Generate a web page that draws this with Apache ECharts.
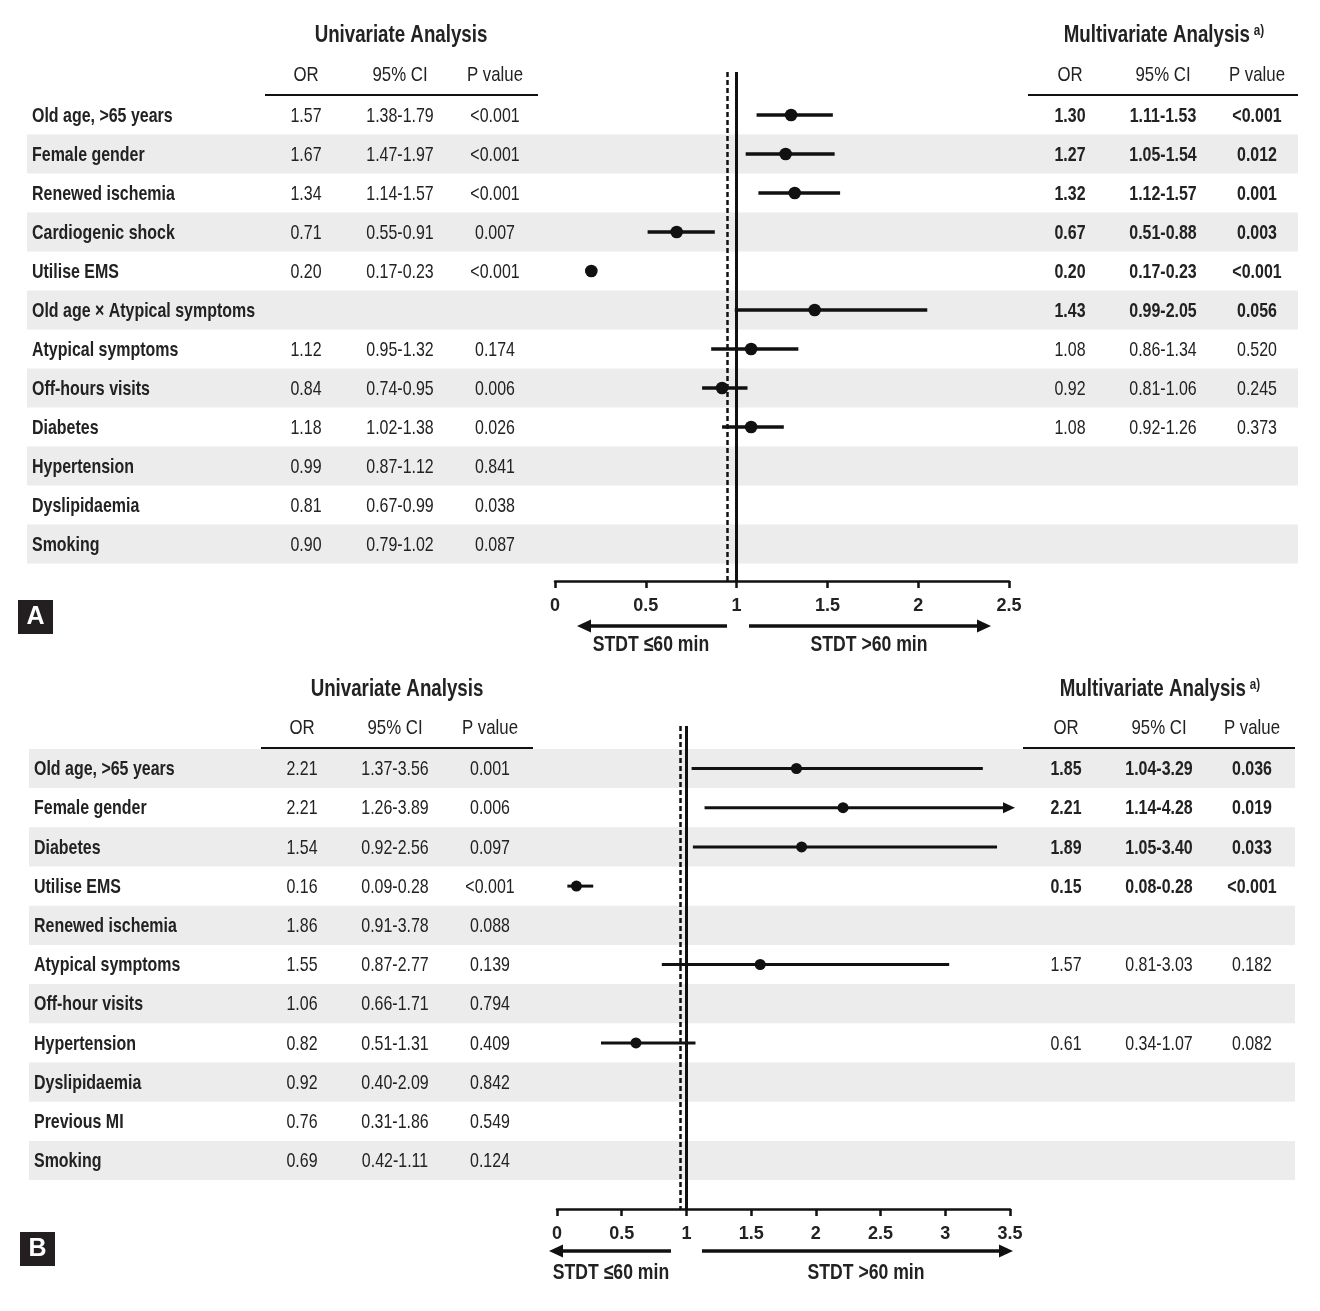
<!DOCTYPE html>
<html><head><meta charset="utf-8">
<script src="https://cdn.jsdelivr.net/npm/echarts@6/dist/echarts.min.js"></script>
<style>html,body{margin:0;padding:0;background:#fff}#c{width:1320px;height:1311px}</style>
</head><body><div id="c"></div>
<script>
// ---------- Panel A data ----------
const A_labels = ['Old age, >65 years','Female gender','Renewed ischemia','Cardiogenic shock','Utilise EMS','Old age \u00d7 Atypical symptoms','Atypical symptoms','Off-hours visits','Diabetes','Hypertension','Dyslipidaemia','Smoking'];
const A_uniOR = ['1.57','1.67','1.34','0.71','0.20','','1.12','0.84','1.18','0.99','0.81','0.90'];
const A_uniCI = ['1.38-1.79','1.47-1.97','1.14-1.57','0.55-0.91','0.17-0.23','','0.95-1.32','0.74-0.95','1.02-1.38','0.87-1.12','0.67-0.99','0.79-1.02'];
const A_uniP  = ['<0.001','<0.001','<0.001','0.007','<0.001','','0.174','0.006','0.026','0.841','0.038','0.087'];
const A_mOR = [1.30,1.27,1.32,0.67,0.20,1.43,1.08,0.92,1.08,null,null,null];
const A_mLo = [1.11,1.05,1.12,0.51,0.17,0.99,0.86,0.81,0.92,null,null,null];
const A_mHi = [1.53,1.54,1.57,0.88,0.23,2.05,1.34,1.06,1.26,null,null,null];
const A_mP  = ['<0.001','0.012','0.001','0.003','<0.001','0.056','0.520','0.245','0.373','','',''];
const A_boldRows = 6;
const A_xMax = 2.5;

// ---------- Panel B data ----------
const B_labels = ['Old age, >65 years','Female gender','Diabetes','Utilise EMS','Renewed ischemia','Atypical symptoms','Off-hour visits','Hypertension','Dyslipidaemia','Previous MI','Smoking'];
const B_uniOR = ['2.21','2.21','1.54','0.16','1.86','1.55','1.06','0.82','0.92','0.76','0.69'];
const B_uniCI = ['1.37-3.56','1.26-3.89','0.92-2.56','0.09-0.28','0.91-3.78','0.87-2.77','0.66-1.71','0.51-1.31','0.40-2.09','0.31-1.86','0.42-1.11'];
const B_uniP  = ['0.001','0.006','0.097','<0.001','0.088','0.139','0.794','0.409','0.842','0.549','0.124'];
const B_mOR = [1.85,2.21,1.89,0.15,null,1.57,null,0.61,null,null,null];
const B_mLo = [1.04,1.14,1.05,0.08,null,0.81,null,0.34,null,null,null];
const B_mHi = [3.29,4.28,3.40,0.28,null,3.03,null,1.07,null,null,null];
const B_mP  = ['0.036','0.019','0.033','<0.001','','0.182','','0.082','','',''];
const B_boldRows = 4;
const B_xMax = 3.5;

const refLines = [1, 0.95];   // solid line at OR=1, dashed reference
const colHeads = ['OR','95% CI','P value'];
const xTitleLeft = 'STDT \u226460 min';
const xTitleRight = 'STDT >60 min';

// ---------- styling ----------
const FONT = "'Liberation Sans',Arial,sans-serif";
const TXT = '#222';
const INK = '#111';
const NARROW = 0.77;

const option = {animation:false, backgroundColor:'#fff', grid:[], xAxis:[], yAxis:[], series:[], graphic:[]};

function txt(x,y,text,size,weight,sx,align){
  return {type:'text', x:x, y:y, scaleX:sx||NARROW, silent:true, z:10, style:{text:text, fontSize:size, fontFamily:FONT, fontWeight:weight||'normal', fill:TXT, align:align||'center', verticalAlign:'middle'}};
}
function hline(x1,x2,y,w){ return {type:'line', silent:true, shape:{x1:x1,y1:y,x2:x2,y2:y}, style:{stroke:INK,lineWidth:w}}; }
function arrow(xFrom,xTip,y){
  const dir = xTip > xFrom ? 1 : -1;
  return [
    {type:'line', silent:true, shape:{x1:xFrom,y1:y,x2:xTip-dir*10,y2:y}, style:{stroke:INK,lineWidth:3.5}},
    {type:'polygon', silent:true, shape:{points:[[xTip,y],[xTip-dir*14,y-6.5],[xTip-dir*14,y+6.5]]}, style:{fill:INK}}
  ];
}

function addPanel(D, L){
  const gBg = option.grid.length;
  const n = D.labels.length;
  option.grid.push({left:0, top:L.bgTop, width:1320, height:L.axisY-L.bgTop});
  option.xAxis.push({gridIndex:gBg, type:'value', min:0, max:1320, show:false});
  option.yAxis.push({gridIndex:gBg, type:'value', min:(L.bgTop-L.row0)/L.rowH, max:(L.axisY-L.row0)/L.rowH, inverse:true, show:false});
  const gP = gBg+1;
  option.grid.push({left:L.plotLeft, top:L.plotTop, width:L.plotRight-L.plotLeft, height:L.axisY-L.plotTop});
  option.xAxis.push({gridIndex:gP, type:'value', min:0, max:D.xMax, interval:0.5,
    axisLine:{show:true, onZero:false, lineStyle:{color:INK, width:2.5}},
    axisTick:{show:true, length:7, lineStyle:{color:INK, width:2.5}},
    axisLabel:{show:true, showMinLabel:true, showMaxLabel:true, fontFamily:FONT, fontWeight:'bold', fontSize:18, color:TXT, margin:16},
    splitLine:{show:false}});
  option.yAxis.push({gridIndex:gP, type:'value', min:(L.plotTop-L.row0)/L.rowH, max:(L.axisY-L.row0)/L.rowH, inverse:true, show:false});

  // stripes
  const stripeRows = [];
  for(let i=0;i<n;i++) if(i%2===L.stripeParity) stripeRows.push([i]);
  option.series.push({type:'custom', xAxisIndex:gBg, yAxisIndex:gBg, silent:true, z:0, data:stripeRows, encode:{y:0},
    renderItem:function(params, api){
      const r = api.value(0);
      const p0 = api.coord([L.stripeX[0], r-0.5]);
      const p1 = api.coord([L.stripeX[1], r+0.5]);
      return {type:'rect', shape:{x:p0[0], y:p0[1], width:p1[0]-p0[0], height:p1[1]-p0[1]}, style:{fill:'#ececec'}};
    }});

  function textSeries(items, size, weight, align, sx){
    option.series.push({type:'custom', xAxisIndex:gBg, yAxisIndex:gBg, silent:true, z:3, clip:false,
      data:items.map(function(d){return [d.x, d.row];}), encode:{x:0, y:1},
      renderItem:function(params, api){
        const p = api.coord([api.value(0), api.value(1)]);
        return {type:'text', x:p[0], y:p[1]+1, scaleX:sx,
          style:{text:items[params.dataIndex].t, fontSize:size, fontFamily:FONT, fontWeight:weight, fill:TXT, align:align, verticalAlign:'middle'}};
      }});
  }
  const lab = [], uni = [], mNorm = [], mBold = [];
  for(let i=0;i<n;i++){
    lab.push({t:D.labels[i], x:L.labelX, row:i});
    [D.uniOR[i], D.uniCI[i], D.uniP[i]].forEach(function(t,k){ if(t) uni.push({t:t, x:L.uniX[k], row:i}); });
    if(D.mOR[i]!=null){
      const cells = [D.mOR[i].toFixed(2), D.mLo[i].toFixed(2)+'-'+D.mHi[i].toFixed(2), D.mP[i]];
      cells.forEach(function(t,k){ (i<D.boldRows?mBold:mNorm).push({t:t, x:L.multiX[k], row:i}); });
    }
  }
  textSeries(lab, 21, 'bold', 'left', 0.76);
  textSeries(uni, 21, 'normal', 'center', 0.76);
  textSeries(mNorm, 21, 'normal', 'center', 0.76);
  textSeries(mBold, 21, 'bold', 'center', 0.76);

  // forest plot marks
  const fData = [];
  for(let i=0;i<n;i++) if(D.mOR[i]!=null) fData.push([D.mOR[i], D.mLo[i], D.mHi[i], i]);
  option.series.push({type:'custom', xAxisIndex:gP, yAxisIndex:gP, silent:true, z:5, clip:false, data:fData, encode:{x:[0,1,2], y:3},
    renderItem:function(params, api){
      const or=api.value(0), lo=api.value(1), hi=api.value(2), row=api.value(3);
      const a = api.coord([lo,row]);
      const b = api.coord([Math.min(hi,D.xMax),row]);
      const c = api.coord([or,row]);
      const ch = [
        {type:'line', shape:{x1:a[0],y1:a[1],x2:(hi>D.xMax?b[0]-4:b[0]),y2:b[1]}, style:{stroke:INK,lineWidth:L.ciW}},
        {type:'circle', shape:{cx:c[0],cy:c[1],r:L.dotR}, style:{fill:INK}}
      ];
      if(hi>D.xMax) ch.push({type:'polygon', shape:{points:[[b[0]+5,b[1]],[b[0]-7,b[1]-5.5],[b[0]-7,b[1]+5.5]]}, style:{fill:INK}});
      return {type:'group', children:ch};
    },
    markLine:{silent:true, symbol:['none','none'], label:{show:false}, animation:false,
      data:[
        {xAxis:refLines[0], lineStyle:{color:INK, width:3, type:'solid'}},
        {xAxis:refLines[1], lineStyle:{color:INK, width:2.5, type:[5,3]}}
      ]}
  });

  // headings & annotations
  const G = option.graphic;
  G.push(txt(L.uniTitleX, L.titleY, 'Univariate Analysis', 24, 'bold', 0.78));
  G.push({type:'text', x:L.multiTitleX, y:L.titleY, scaleX:0.78, silent:true, z:10, style:{
    text:'{a|Multivariate Analysis}{b|a)}', align:'center', verticalAlign:'middle', fill:TXT,
    rich:{a:{fontSize:24, fontWeight:'bold', fontFamily:FONT, fill:TXT}, b:{fontSize:15, fontWeight:'bold', fontFamily:FONT, fill:TXT, verticalAlign:'top', padding:[0,0,8,5]}}}});
  colHeads.forEach(function(h,k){
    G.push(txt(L.uniX[k], L.headY, h, 21, 'normal', 0.8));
    G.push(txt(L.multiX[k], L.headY, h, 21, 'normal', 0.8));
  });
  G.push(hline(L.uniLine[0], L.uniLine[1], L.lineY, 2));
  G.push(hline(L.multiLine[0], L.multiLine[1], L.lineY, 2));
  arrow(L.arrowL[0], L.arrowL[1], L.arrowY).forEach(function(e){G.push(e);});
  arrow(L.arrowR[0], L.arrowR[1], L.arrowY).forEach(function(e){G.push(e);});
  G.push(txt(L.xtL, L.xtY, xTitleLeft, 22, 'bold', 0.8));
  G.push(txt(L.xtR, L.xtY, xTitleRight, 22, 'bold', 0.8));
  G.push({type:'rect', silent:true, shape:{x:L.box[0], y:L.box[1], width:35, height:34}, style:{fill:'#231f20'}});
  G.push({type:'text', silent:true, x:L.box[0]+17.5, y:L.box[1]+17.5, style:{text:L.letter, fontSize:25, fontWeight:'bold', fontFamily:FONT, fill:'#fff', align:'center', verticalAlign:'middle'}});
}

addPanel(
  {labels:A_labels, uniOR:A_uniOR, uniCI:A_uniCI, uniP:A_uniP, mOR:A_mOR, mLo:A_mLo, mHi:A_mHi, mP:A_mP, boldRows:A_boldRows, xMax:A_xMax},
  {row0:115, rowH:39, bgTop:90, axisY:581, plotLeft:555, plotRight:1009, plotTop:72,
   labelX:32, uniX:[306,400,495], multiX:[1070,1163,1257], stripeX:[27,1298], stripeParity:1,
   ciW:3.5, dotR:6.3, titleY:35, headY:75, lineY:95, uniTitleX:401, multiTitleX:1164,
   uniLine:[265,538], multiLine:[1028,1298], arrowY:626, arrowL:[727,577], arrowR:[749,991],
   xtY:645, xtL:651, xtR:869, box:[18,600], letter:'A'});

addPanel(
  {labels:B_labels, uniOR:B_uniOR, uniCI:B_uniCI, uniP:B_uniP, mOR:B_mOR, mLo:B_mLo, mHi:B_mHi, mP:B_mP, boldRows:B_boldRows, xMax:B_xMax},
  {row0:768.5, rowH:39.2, bgTop:745, axisY:1209, plotLeft:557, plotRight:1010, plotTop:726,
   labelX:34, uniX:[302,395,490], multiX:[1066,1159,1252], stripeX:[29,1295], stripeParity:0,
   ciW:3, dotR:5.5, titleY:689, headY:728, lineY:748, uniTitleX:397, multiTitleX:1160,
   uniLine:[261,533], multiLine:[1023,1295], arrowY:1251, arrowL:[671,549], arrowR:[702,1013],
   xtY:1273, xtL:611, xtR:866, box:[20,1232], letter:'B'});

const chart = echarts.init(document.getElementById('c'), null, {renderer:'canvas'});
chart.setOption(option);
</script>
</body></html>
